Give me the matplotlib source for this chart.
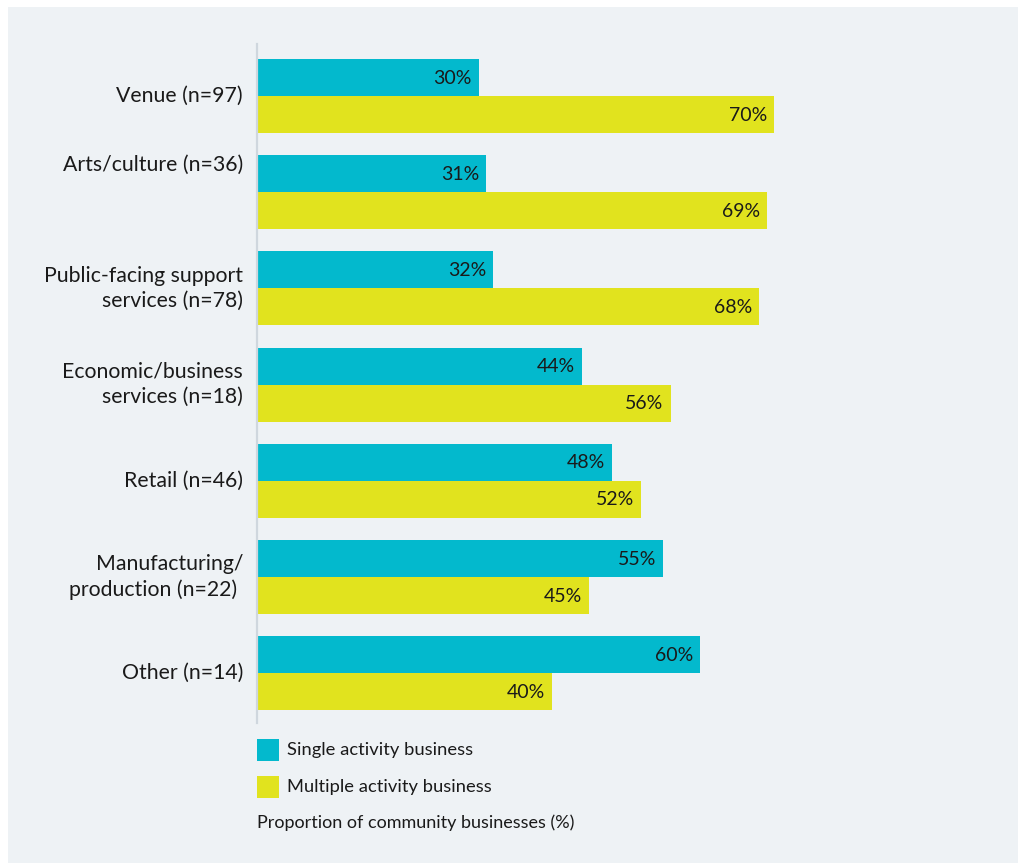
import matplotlib.pyplot as plt
from matplotlib.patches import Rectangle
import matplotlib.transforms as mtransforms

categories = ["Venue (n=97)", "Arts/culture (n=36)", "Public-facing support\nservices (n=78)",
              "Economic/business\nservices (n=18)", "Retail (n=46)",
              "Manufacturing/\nproduction (n=22) ", "Other (n=14)"]
single = [30, 31, 32, 44, 48, 55, 60]
multiple = [70, 69, 68, 56, 52, 45, 40]
series_names = ["Single activity business", "Multiple activity business"]
xlabel = "Proportion of community businesses (%)"

TEAL = "#03b9cd"
YELLOW = "#e1e31e"
PANEL = "#eef2f5"
INK = "#1a1a1a"

plt.rcParams['font.family'] = ['Lato', 'DejaVu Sans']

W, H = 1019, 863
fig = plt.figure(figsize=(W / 100, H / 100), dpi=100)
fig.patch.set_facecolor("white")
# grey panel behind everything
fig.patches.append(Rectangle((8 / W, 0), 1010 / W, (H - 7) / H, transform=fig.transFigure,
                             facecolor=PANEL, edgecolor="none", zorder=0))

ax = fig.add_axes([257 / W, 1 - 723 / H, 738.6 / W, 679 / H])
ax.set_zorder(2)
ax.set_facecolor("none")
ax.set_xlim(0, 100)
ax.set_ylim(6.518, -0.54)

h = 0.385
ys = list(range(len(categories)))
ax.barh([y - h / 2 for y in ys], single, height=h, color=TEAL, label=series_names[0])
ax.barh([y + h / 2 for y in ys], multiple, height=h, color=YELLOW, label=series_names[1])

# value labels inside the bar ends
for y, a, b in zip(ys, single, multiple):
    ax.annotate(f"{a}%", (a, y - h / 2), xytext=(-5, -0.5), textcoords="offset points",
                ha="right", va="center", fontsize=14, color=INK)
    ax.annotate(f"{b}%", (b, y + h / 2), xytext=(-5, -0.5), textcoords="offset points",
                ha="right", va="center", fontsize=14, color=INK)

# category labels; the arts label sits a bit higher
lift = {1: 20}
trans = mtransforms.blended_transform_factory(ax.transAxes, ax.transData)
for y, name in zip(ys, categories):
    ax.annotate(name, (0, y), xycoords=trans, xytext=(-10, lift.get(y, 0)),
                textcoords="offset points", ha="right", va="center",
                fontsize=15.3, color=INK, linespacing=1.32)

ax.set_xticks([])
ax.set_yticks([])
for s in ["top", "right", "bottom"]:
    ax.spines[s].set_visible(False)
ax.spines["left"].set_color("#cfd7de")
ax.spines["left"].set_linewidth(1.6)

# legend squares and caption
for i, (name, col) in enumerate(zip(series_names, [TEAL, YELLOW])):
    top = 739 + i * 37
    fig.patches.append(Rectangle((257 / W, 1 - (top + 22) / H), 22 / W, 22 / H,
                                 transform=fig.transFigure, facecolor=col, edgecolor="none"))
    fig.text(287 / W, 1 - (top + 11) / H, name, ha="left", va="center", fontsize=13.2, color=INK)
fig.text(257 / W, 1 - 823 / H, xlabel, ha="left", va="center", fontsize=13, color=INK)

fig.savefig("out.png", dpi=100, facecolor=fig.get_facecolor())
